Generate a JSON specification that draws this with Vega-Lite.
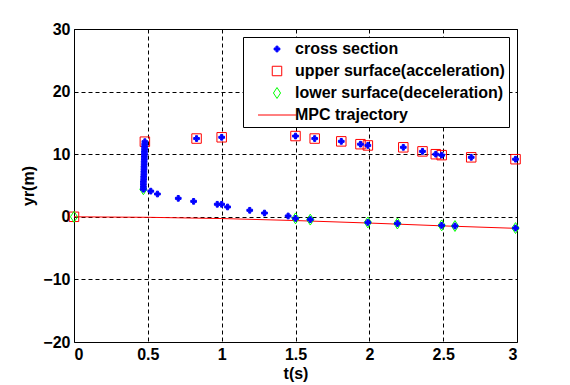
{
  "$schema": "https://vega.github.io/schema/vega-lite/v6.json",
  "width": 443,
  "height": 313,
  "autosize": "none",
  "padding": {"left": 74, "top": 29, "right": 53, "bottom": 43},
  "background": "white",
  "config": {
    "view": {"stroke": "black", "strokeWidth": 1},
    "font": "Liberation Sans",
    "axis": {
      "labelFont": "Liberation Sans", "labelFontSize": 16, "labelFontWeight": "bold", "labelColor": "black",
      "titleFont": "Liberation Sans", "titleFontSize": 16, "titleFontWeight": "bold", "titleColor": "black",
      "grid": true, "gridColor": "black", "gridDash": [4, 3], "gridOpacity": 1, "gridWidth": 1,
      "domain": false, "ticks": false, "labelPadding": 4
    },
    "legend": {
      "labelFont": "Liberation Sans", "labelFontSize": 16, "labelFontWeight": "bold", "labelColor": "black",
      "labelLimit": 400,
      "orient": "none", "legendX": 169, "legendY": 8,
      "strokeColor": "black", "fillColor": "white", "padding": 4, "rowPadding": 6,
      "symbolSize": 90, "symbolOffset": 22, "labelOffset": 10, "symbolStrokeWidth": 1
    }
  },
  "data": {
    "values": [
      {"series": "MPC trajectory", "t": 0, "y": 0},
      {"series": "MPC trajectory", "t": 0.5, "y": -0.08},
      {"series": "MPC trajectory", "t": 1.0, "y": -0.28},
      {"series": "MPC trajectory", "t": 1.5, "y": -0.6},
      {"series": "MPC trajectory", "t": 2.0, "y": -1.0},
      {"series": "MPC trajectory", "t": 2.5, "y": -1.45},
      {"series": "MPC trajectory", "t": 3.0, "y": -1.85},

      {"series": "upper surface(acceleration)", "t": 0, "y": 0},
      {"series": "upper surface(acceleration)", "t": 0.48, "y": 12.0},
      {"series": "upper surface(acceleration)", "t": 0.83, "y": 12.5},
      {"series": "upper surface(acceleration)", "t": 1.0, "y": 12.7},
      {"series": "upper surface(acceleration)", "t": 1.5, "y": 12.9},
      {"series": "upper surface(acceleration)", "t": 1.63, "y": 12.5},
      {"series": "upper surface(acceleration)", "t": 1.81, "y": 12.05},
      {"series": "upper surface(acceleration)", "t": 1.94, "y": 11.6},
      {"series": "upper surface(acceleration)", "t": 1.99, "y": 11.4},
      {"series": "upper surface(acceleration)", "t": 2.23, "y": 11.1},
      {"series": "upper surface(acceleration)", "t": 2.36, "y": 10.45},
      {"series": "upper surface(acceleration)", "t": 2.45, "y": 10.0},
      {"series": "upper surface(acceleration)", "t": 2.49, "y": 9.85},
      {"series": "upper surface(acceleration)", "t": 2.69, "y": 9.5},
      {"series": "upper surface(acceleration)", "t": 2.99, "y": 9.2},

      {"series": "lower surface(deceleration)", "t": 0, "y": 0},
      {"series": "lower surface(deceleration)", "t": 0.47, "y": 4.4},
      {"series": "lower surface(deceleration)", "t": 1.5, "y": -0.25},
      {"series": "lower surface(deceleration)", "t": 1.6, "y": -0.45},
      {"series": "lower surface(deceleration)", "t": 1.99, "y": -0.9},
      {"series": "lower surface(deceleration)", "t": 2.19, "y": -1.07},
      {"series": "lower surface(deceleration)", "t": 2.49, "y": -1.37},
      {"series": "lower surface(deceleration)", "t": 2.58, "y": -1.47},
      {"series": "lower surface(deceleration)", "t": 2.99, "y": -1.8},

      {"series": "cross section", "t": 0.47, "y": 4.4},
      {"series": "cross section", "t": 0.47, "y": 4.8},
      {"series": "cross section", "t": 0.47, "y": 5.2},
      {"series": "cross section", "t": 0.47, "y": 5.6},
      {"series": "cross section", "t": 0.472, "y": 6.0},
      {"series": "cross section", "t": 0.472, "y": 6.4},
      {"series": "cross section", "t": 0.473, "y": 6.8},
      {"series": "cross section", "t": 0.473, "y": 7.2},
      {"series": "cross section", "t": 0.474, "y": 7.6},
      {"series": "cross section", "t": 0.474, "y": 8.0},
      {"series": "cross section", "t": 0.475, "y": 8.4},
      {"series": "cross section", "t": 0.475, "y": 8.8},
      {"series": "cross section", "t": 0.476, "y": 9.2},
      {"series": "cross section", "t": 0.476, "y": 9.6},
      {"series": "cross section", "t": 0.477, "y": 10.0},
      {"series": "cross section", "t": 0.477, "y": 10.4},
      {"series": "cross section", "t": 0.478, "y": 10.8},
      {"series": "cross section", "t": 0.478, "y": 11.2},
      {"series": "cross section", "t": 0.479, "y": 11.6},
      {"series": "cross section", "t": 0.48, "y": 12.0},
      {"series": "cross section", "t": 0.52, "y": 4.1},
      {"series": "cross section", "t": 0.565, "y": 3.64},
      {"series": "cross section", "t": 0.706, "y": 2.95},
      {"series": "cross section", "t": 0.81, "y": 2.47},
      {"series": "cross section", "t": 0.97, "y": 2.0},
      {"series": "cross section", "t": 1.0, "y": 2.0},
      {"series": "cross section", "t": 1.04, "y": 1.57},
      {"series": "cross section", "t": 1.19, "y": 1.04},
      {"series": "cross section", "t": 1.29, "y": 0.6},
      {"series": "cross section", "t": 1.45, "y": 0.13},
      {"series": "cross section", "t": 0.83, "y": 12.5},
      {"series": "cross section", "t": 1.0, "y": 12.7},
      {"series": "cross section", "t": 1.5, "y": 12.9},
      {"series": "cross section", "t": 1.63, "y": 12.5},
      {"series": "cross section", "t": 1.81, "y": 12.05},
      {"series": "cross section", "t": 1.94, "y": 11.6},
      {"series": "cross section", "t": 1.99, "y": 11.4},
      {"series": "cross section", "t": 2.23, "y": 11.1},
      {"series": "cross section", "t": 2.36, "y": 10.45},
      {"series": "cross section", "t": 2.45, "y": 10.0},
      {"series": "cross section", "t": 2.49, "y": 9.85},
      {"series": "cross section", "t": 2.69, "y": 9.5},
      {"series": "cross section", "t": 2.99, "y": 9.2},
      {"series": "cross section", "t": 1.5, "y": -0.25},
      {"series": "cross section", "t": 1.6, "y": -0.45},
      {"series": "cross section", "t": 1.99, "y": -0.9},
      {"series": "cross section", "t": 2.19, "y": -1.07},
      {"series": "cross section", "t": 2.49, "y": -1.37},
      {"series": "cross section", "t": 2.58, "y": -1.47},
      {"series": "cross section", "t": 2.99, "y": -1.8}
    ]
  },
  "encoding": {
    "x": {"field": "t", "type": "quantitative", "title": "t(s)",
      "scale": {"domain": [0, 3], "nice": false, "zero": false},
      "axis": {"values": [0, 0.5, 1, 1.5, 2, 2.5, 3], "format": "~g", "titlePadding": 3}},
    "y": {"field": "y", "type": "quantitative", "title": "yr(m)",
      "scale": {"domain": [-20, 30], "nice": false, "zero": false},
      "axis": {"values": [-20, -10, 0, 10, 20, 30], "format": "d", "titlePadding": 6}}
  },
  "layer": [
    {
      "transform": [{"filter": "datum.series === 'MPC trajectory'"}],
      "mark": {"type": "line", "strokeWidth": 1, "interpolate": "linear"},
      "encoding": {
        "stroke": {"field": "series", "type": "nominal", "title": null,
          "scale": {"domain": ["cross section", "upper surface(acceleration)", "lower surface(deceleration)", "MPC trajectory"],
            "range": ["#0000ff", "#ff0000", "#00ff00", "#ff0000"]}}
      }
    },
    {
      "transform": [{"filter": "datum.series !== 'MPC trajectory'"}],
      "mark": {"type": "point", "strokeWidth": 1, "opacity": 1, "size": 90},
      "encoding": {
        "stroke": {"field": "series", "type": "nominal", "title": null},
        "fill": {"field": "series", "type": "nominal", "title": null,
          "scale": {"domain": ["cross section", "upper surface(acceleration)", "lower surface(deceleration)", "MPC trajectory"],
            "range": ["#0000ff", "transparent", "transparent", "transparent"]}},
        "shape": {"field": "series", "type": "nominal", "title": null,
          "scale": {"domain": ["cross section", "upper surface(acceleration)", "lower surface(deceleration)", "MPC trajectory"],
            "range": [
              "M-0.22,-0.6H0.22V-0.22H0.6V0.22H0.22V0.6H-0.22V0.22H-0.6V-0.22H-0.22Z",
              "square",
              "M0,-1.15L0.75,0L0,1.15L-0.75,0Z",
              "M-4,0H4"
            ]}}
      }
    }
  ]
}
